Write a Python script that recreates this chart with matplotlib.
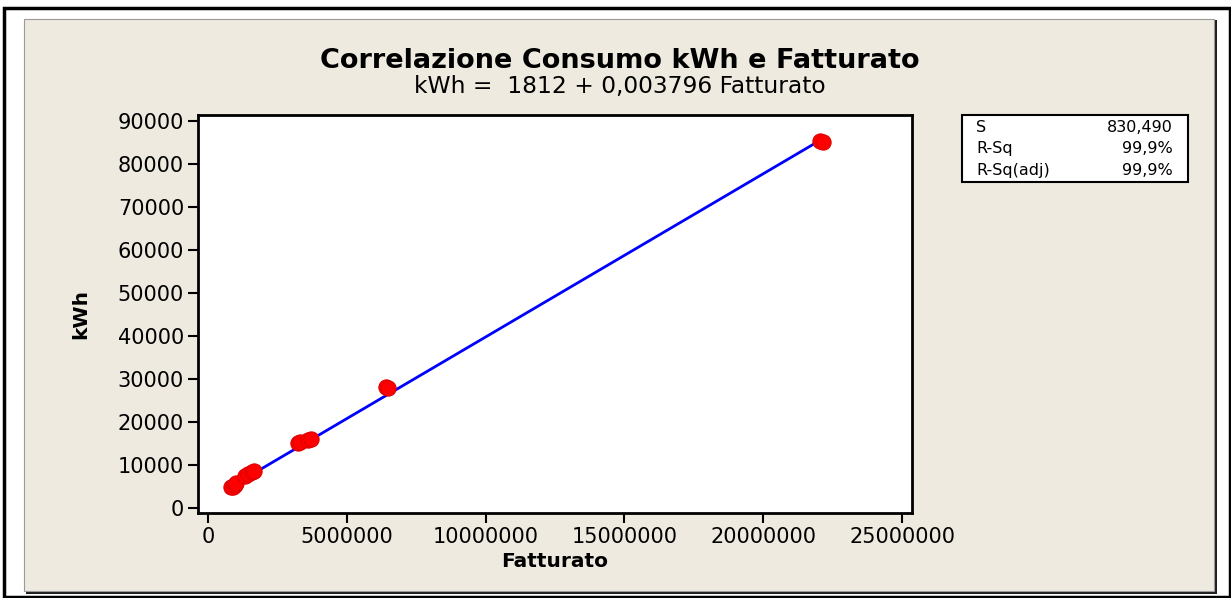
import matplotlib
matplotlib.use("Agg")
import matplotlib.pyplot as plt
from matplotlib.patches import Rectangle
import numpy as np

# data
fatturato = [820000, 900000, 980000, 1020000, 1350000, 1450000, 1580000, 1650000,
             3230000, 3300000, 3620000, 3700000, 6400000, 6500000, 22050000, 22150000]
kwh = [4800, 5000, 5400, 5800, 7500, 8000, 8300, 8600,
       15100, 15300, 15800, 16000, 28100, 28000, 85400, 85200]
intercept = 1812
slope = 0.003796
title = "Correlazione Consumo kWh e Fatturato"
subtitle = "kWh =  1812 + 0,003796 Fatturato"
stats_names = ["S", "R-Sq", "R-Sq(adj)"]
stats_values = ["830,490", "99,9%", "99,9%"]
x_ticks = [0, 5000000, 10000000, 15000000, 20000000, 25000000]
y_ticks = [0, 10000, 20000, 30000, 40000, 50000, 60000, 70000, 80000, 90000]

W, H = 1231, 598
fig = plt.figure(figsize=(W / 100, H / 100), dpi=100)
fig.patch.set_facecolor("white")

def fx(px): return px / W
def fy(py): return 1 - py / H

# outer black frame
fig.patches.append(Rectangle((fx(4), fy(597)), fx(1226), 589 / H, transform=fig.transFigure,
                             fill=False, edgecolor="black", linewidth=2.5, zorder=-10))
# beige panel with shadow
fig.patches.append(Rectangle((fx(26), fy(594)), fx(1191), 574 / H, transform=fig.transFigure,
                             facecolor="#1e1e1e", edgecolor="none", zorder=-10))
fig.patches.append(Rectangle((fx(24), fy(591)), fx(1190), 572 / H, transform=fig.transFigure,
                             facecolor="#EEEAE0", edgecolor="#9a9a9a", linewidth=0.8, zorder=-9))

ax = fig.add_axes([fx(198), fy(513), fx(912 - 198), (513 - 115) / H])
ax.set_facecolor("white")
ax.set_zorder(1)

x = np.array(fatturato, dtype=float)
xs = np.linspace(x.min(), x.max(), 50)
ax.plot(xs, intercept + slope * xs, color="#0000ff", linewidth=2, zorder=2)
ax.scatter(fatturato, kwh, s=120, color="#ff0000", edgecolors="#e00000", linewidths=0.8, zorder=3)

ax.set_xlim(-360000, 25360000)
ax.set_ylim(-1160, 91400)
ax.set_xticks(x_ticks)
ax.set_yticks(y_ticks)
ax.set_xticklabels([str(v) for v in x_ticks])
ax.set_yticklabels([str(v) for v in y_ticks])
ax.tick_params(direction="out", length=7, width=1.5, labelsize=15, pad=3)
for sp in ax.spines.values():
    sp.set_linewidth(2)

ax.set_xlabel("Fatturato", fontsize=14.5, fontweight="bold", labelpad=4)
ax.set_ylabel("kWh", fontsize=14.5, fontweight="bold", labelpad=20)

fig.text(fx(620), fy(61), title, ha="center", va="center", fontsize=19.5, fontweight="bold")
fig.text(fx(620), fy(86), subtitle, ha="center", va="center", fontsize=16.8)

# stats box
fig.patches.append(Rectangle((fx(962), fy(182)), fx(1188 - 962), 67 / H, transform=fig.transFigure,
                             facecolor="white", edgecolor="black", linewidth=1.5, zorder=5))
for i, (n, v) in enumerate(zip(stats_names, stats_values)):
    yy = fy(127 + 22 * i)
    fig.text(fx(976), yy, n, ha="left", va="center", fontsize=11.5, zorder=6)
    fig.text(fx(1173), yy, v, ha="right", va="center", fontsize=11.5, zorder=6)

fig.savefig("out.png", dpi=100)
